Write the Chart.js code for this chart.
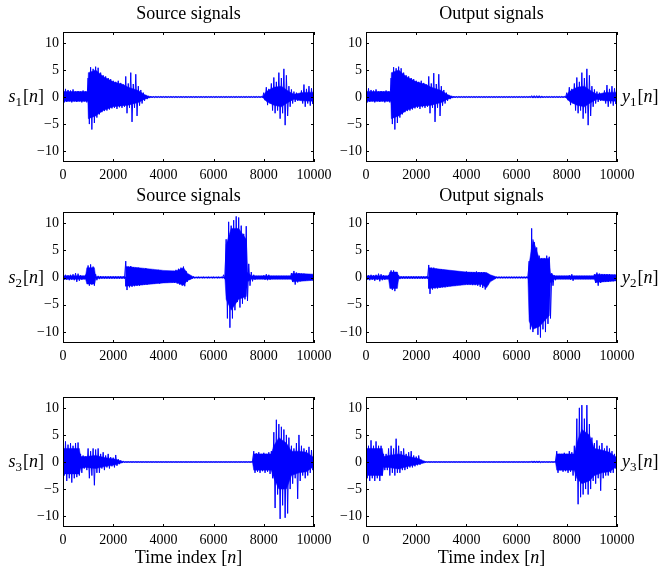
<!DOCTYPE html>
<html><head><meta charset="utf-8">
<script src="https://cdn.jsdelivr.net/npm/chart.js@4/dist/chart.umd.min.js"></script>
<style>
html,body{margin:0;padding:0;background:#fff;width:661px;height:572px;overflow:hidden}
canvas{position:absolute;left:0;top:0}
</style></head>
<body>
<canvas id="c0" width="661" height="572"></canvas>
<canvas id="c1" width="661" height="572"></canvas>
<canvas id="c2" width="661" height="572"></canvas>
<canvas id="c3" width="661" height="572"></canvas>
<canvas id="c4" width="661" height="572"></canvas>
<canvas id="c5" width="661" height="572"></canvas>
<script>
// tick values
const xTicks = [0, 2000, 4000, 6000, 8000, 10000];
const yTicks = [-10, -5, 0, 5, 10];
const colTitles = ['Source signals', 'Output signals'];
const xLabel = 'Time index';

// Peak values: Hi at n = 0,100,...,10000; Lo at n = 50,150,...,9950
const s1Hi = [
 2.0,1.5,1.3,1.2,1.4,1.0,1.1,1.0,1.2,1.0,
 3.5,5.5,5.2,5.6,5.4,4.5,4.0,3.8,3.5,3.3,
 3.0,2.8,3.0,2.6,2.3,3.8,2.5,4.5,2.4,4.2,
 2.0,1.3,0.8,0.4,0.2,0.15,0.12,0.1,0.1,0.1,
 0.1,0.1,0.1,0.1,0.1,0.1,0.1,0.1,0.1,0.1,
 0.1,0.1,0.1,0.1,0.1,0.1,0.1,0.1,0.1,0.1,
 0.1,0.1,0.1,0.1,0.1,0.1,0.1,0.1,0.1,0.1,
 0.1,0.1,0.1,0.1,0.1,0.1,0.1,0.1,0.1,0.1,
 0.8,1.8,1.5,2.5,3.6,2.8,4.5,3.5,5.2,4.0,
 2.0,1.4,1.0,0.8,0.6,1.2,2.3,1.5,2.0,1.6,
 1.5];
const s1Lo = [
 -1.0,-0.9,-0.8,-1.0,-0.8,-0.9,-0.8,-1.0,-0.8,-1.0,
 -5.0,-6.0,-4.8,-3.8,-3.2,-2.8,-2.6,-2.5,-2.3,-2.1,
 -2.0,-2.2,-1.9,-2.0,-1.8,-3.0,-2.0,-4.6,-2.0,-3.5,
 -1.6,-1.2,-0.7,-0.4,-0.2,-0.15,-0.12,-0.1,-0.1,-0.1,
 -0.1,-0.1,-0.1,-0.1,-0.1,-0.1,-0.1,-0.1,-0.1,-0.1,
 -0.1,-0.1,-0.1,-0.1,-0.1,-0.1,-0.1,-0.1,-0.1,-0.1,
 -0.1,-0.1,-0.1,-0.1,-0.1,-0.1,-0.1,-0.1,-0.1,-0.1,
 -0.1,-0.1,-0.1,-0.1,-0.1,-0.1,-0.1,-0.1,-0.1,-0.1,
 -0.6,-1.5,-1.2,-2.5,-3.0,-2.5,-4.0,-3.0,-5.2,-3.5,
 -1.8,-1.2,-0.9,-0.7,-0.6,-1.2,-1.8,-1.2,-1.6,-1.3];
// dense core band: breakpoints n, upper, lower
const s1CoreX  = [0, 990, 1010, 1300, 1600, 2000, 2400, 2600, 3000, 3300, 3500, 7950, 8100, 8400, 8700, 9000, 9200, 9500, 10000];
const s1CoreHi = [1.0, 1.0, 4.5, 5.0, 3.8, 2.8, 2.3, 1.8, 1.2, 0.3, 0.05, 0.05, 1.0, 1.8, 2.0, 1.0, 0.5, 0.8, 0.9];
const s1CoreLo = [-0.8, -0.8, -4.0, -3.5, -2.5, -1.8, -1.6, -1.5, -1.0, -0.3, -0.05, -0.05, -0.8, -1.5, -1.8, -0.9, -0.4, -0.7, -0.8];

const y1Hi = [
 2.0,1.6,1.3,1.2,1.4,1.0,1.1,1.0,1.2,1.0,
 3.5,5.5,5.3,5.6,5.3,4.5,4.0,3.8,3.5,3.3,
 3.0,2.8,3.0,2.6,2.3,3.8,2.5,4.4,2.4,4.2,
 2.0,1.3,0.8,0.4,0.2,0.15,0.12,0.1,0.1,0.1,
 0.1,0.1,0.1,0.1,0.1,0.1,0.1,0.1,0.1,0.1,
 0.1,0.1,0.1,0.1,0.1,0.1,0.1,0.1,0.1,0.1,
 0.1,0.1,0.1,0.1,0.1,0.1,0.25,0.25,0.25,0.25,
 0.2,0.1,0.1,0.1,0.1,0.1,0.1,0.1,0.1,0.1,
 0.8,1.8,1.5,2.5,3.6,2.8,4.5,3.5,5.2,4.0,
 2.0,1.4,1.0,0.8,0.6,1.2,2.2,1.5,2.0,1.6,
 1.5];
const y1Lo = [
 -1.0,-0.9,-0.8,-1.0,-0.8,-0.9,-0.8,-1.0,-0.8,-1.0,
 -5.0,-6.0,-4.8,-3.8,-3.2,-2.8,-2.6,-2.5,-2.3,-2.1,
 -2.0,-2.2,-1.9,-2.0,-1.8,-3.0,-2.0,-4.6,-2.0,-3.5,
 -1.6,-1.2,-0.7,-0.4,-0.2,-0.15,-0.12,-0.1,-0.1,-0.1,
 -0.1,-0.1,-0.1,-0.1,-0.1,-0.1,-0.1,-0.1,-0.1,-0.1,
 -0.1,-0.1,-0.1,-0.1,-0.1,-0.1,-0.1,-0.1,-0.1,-0.1,
 -0.1,-0.1,-0.1,-0.1,-0.1,-0.1,-0.2,-0.2,-0.2,-0.2,
 -0.15,-0.1,-0.1,-0.1,-0.1,-0.1,-0.1,-0.1,-0.1,-0.1,
 -0.6,-1.5,-1.2,-2.5,-3.0,-2.5,-4.0,-3.0,-5.2,-3.5,
 -1.8,-1.2,-0.9,-0.7,-0.6,-1.2,-1.8,-1.2,-1.6,-1.3];
const y1CoreX  = [0, 990, 1010, 1300, 1600, 2000, 2400, 2600, 3000, 3300, 3500, 7950, 8100, 8400, 8700, 9000, 9200, 9500, 10000];
const y1CoreHi = [1.0, 1.0, 4.5, 5.0, 3.8, 2.8, 2.3, 1.8, 1.2, 0.3, 0.05, 0.05, 1.0, 1.8, 2.0, 1.0, 0.5, 0.8, 0.9];
const y1CoreLo = [-0.8, -0.8, -4.0, -3.5, -2.5, -1.8, -1.6, -1.5, -1.0, -0.3, -0.05, -0.05, -0.8, -1.5, -1.8, -0.9, -0.4, -0.7, -0.8];

const s2Hi = [
 0.4,0.5,0.4,0.5,0.6,0.8,0.7,0.4,0.3,0.5,
 2.2,2.4,2.0,0.6,0.3,0.25,0.2,0.2,0.2,0.2,
 0.2,0.2,0.2,0.2,0.2,3.0,2.0,2.1,1.9,1.8,
 1.8,1.7,1.6,1.7,1.5,1.5,1.4,1.3,1.4,1.3,
 1.2,1.1,1.0,1.0,1.2,1.4,1.6,1.8,2.0,1.2,
 0.5,0.3,0.2,0.1,0.1,0.1,0.1,0.1,0.1,0.1,
 0.1,0.1,0.1,0.1,0.5,7.0,10.2,9.5,10.5,11.2,
 11.0,9.5,8.0,9.4,2.5,1.0,0.5,0.3,0.3,0.3,
 0.4,0.6,0.5,0.3,0.3,0.3,0.3,0.3,0.3,0.3,
 0.3,0.8,1.2,0.9,0.8,0.7,0.7,0.6,0.6,0.5,
 0.4];
const s2Lo = [
 -0.4,-0.4,-0.5,-0.4,-0.5,-0.8,-0.6,-0.4,-0.3,-0.5,
 -1.5,-1.3,-1.5,-0.5,-0.3,-0.2,-0.2,-0.2,-0.2,-0.2,
 -0.2,-0.2,-0.2,-0.2,-0.2,-2.3,-1.8,-1.7,-1.6,-1.5,
 -1.5,-1.4,-1.3,-1.3,-1.2,-1.2,-1.1,-1.0,-1.1,-1.0,
 -1.0,-0.9,-0.8,-0.9,-1.0,-1.1,-1.3,-1.5,-1.6,-0.8,
 -0.4,-0.2,-0.15,-0.1,-0.1,-0.1,-0.1,-0.1,-0.1,-0.1,
 -0.1,-0.1,-0.1,-0.1,-0.3,-7.5,-9.2,-7.5,-6.0,-4.5,
 -5.5,-4.8,-4.0,-4.3,-1.5,-0.7,-0.4,-0.3,-0.3,-0.3,
 -0.4,-0.5,-0.4,-0.3,-0.3,-0.3,-0.3,-0.3,-0.3,-0.3,
 -0.3,-0.8,-1.3,-0.9,-0.7,-0.6,-0.6,-0.5,-0.5,-0.5];
const s2CoreX  = [0, 900, 950, 1250, 1300, 2480, 2500, 3000, 4000, 4500, 4800, 4950, 5200, 6450, 6500, 6700, 7000, 7300, 7350, 7500, 9100, 9150, 10000];
const s2CoreHi = [0.3, 0.3, 1.8, 1.8, 0.15, 0.15, 2.0, 1.8, 1.3, 1.2, 1.8, 0.8, 0.1, 0.1, 6.0, 9.0, 9.0, 7.0, 1.0, 0.3, 0.3, 0.8, 0.6];
const s2CoreLo = [-0.3, -0.3, -1.2, -1.2, -0.15, -0.15, -1.6, -1.4, -1.0, -0.9, -1.4, -0.6, -0.1, -0.1, -4.0, -6.0, -4.0, -3.5, -0.8, -0.3, -0.3, -0.8, -0.5];

const y2Hi = [
 0.4,0.4,0.5,0.4,0.5,0.7,0.6,0.4,0.3,0.4,
 1.3,1.3,0.8,0.4,0.2,0.2,0.2,0.2,0.2,0.2,
 0.2,0.2,0.2,0.2,0.2,2.3,1.8,1.8,1.6,1.5,
 1.5,1.4,1.3,1.2,1.2,1.1,1.1,1.0,1.0,1.0,
 1.1,1.0,1.0,1.0,1.1,1.0,1.0,1.0,0.8,0.5,
 0.3,0.2,0.15,0.15,0.15,0.15,0.15,0.15,0.15,0.15,
 0.15,0.15,0.15,0.15,0.15,3.0,9.0,6.5,5.5,4.0,
 3.5,3.5,4.0,3.8,0.8,0.4,0.3,0.3,0.3,0.3,
 0.3,0.4,0.6,0.3,0.3,0.3,0.3,0.3,0.3,0.3,
 0.3,0.6,0.9,0.7,0.6,0.6,0.6,0.6,0.5,0.5,
 0.5];
const y2Lo = [
 -0.4,-0.5,-0.4,-0.6,-0.4,-0.7,-0.5,-0.4,-0.3,-0.4,
 -2.3,-2.5,-1.0,-0.3,-0.2,-0.2,-0.2,-0.2,-0.2,-0.2,
 -0.2,-0.2,-0.2,-0.2,-0.2,-3.0,-2.2,-2.0,-2.0,-1.9,
 -1.8,-1.8,-1.7,-1.6,-1.5,-1.5,-1.4,-1.4,-1.3,-1.3,
 -1.3,-1.3,-1.4,-1.4,-1.5,-1.7,-1.9,-2.2,-1.4,-0.5,
 -0.3,-0.2,-0.15,-0.15,-0.15,-0.15,-0.15,-0.15,-0.15,-0.15,
 -0.15,-0.15,-0.15,-0.15,-0.15,-9.5,-10.0,-9.0,-10.5,-11.0,
 -9.5,-10.0,-8.5,-7.5,-1.5,-0.5,-0.3,-0.3,-0.3,-0.3,
 -0.3,-0.4,-0.6,-0.3,-0.3,-0.3,-0.3,-0.3,-0.3,-0.3,
 -0.3,-1.0,-1.5,-1.0,-0.8,-0.8,-0.8,-0.7,-0.7,-0.6];
const y2CoreX  = [0, 900, 950, 1250, 1300, 2480, 2500, 3000, 4000, 4600, 4800, 4950, 5200, 6450, 6500, 6650, 6900, 7300, 7350, 7500, 9100, 9150, 10000];
const y2CoreHi = [0.3, 0.3, 1.0, 1.0, 0.15, 0.15, 1.8, 1.5, 1.0, 0.9, 0.9, 0.5, 0.1, 0.1, 2.5, 7.0, 3.5, 3.5, 0.8, 0.3, 0.3, 0.6, 0.5];
const y2CoreLo = [-0.3, -0.3, -2.0, -2.0, -0.15, -0.15, -2.0, -1.8, -1.3, -1.3, -1.9, -0.8, -0.1, -0.1, -8.0, -9.5, -9.0, -7.0, -1.0, -0.3, -0.3, -0.9, -0.6];

const s3Hi = [
 3.0,3.8,3.2,3.5,3.0,3.5,3.6,1.5,1.2,1.0,
 2.5,2.0,2.5,2.3,2.5,1.5,1.8,1.2,1.5,0.9,
 0.8,1.3,0.5,0.3,0.2,0.05,0.05,0.05,0.05,0.05,
 0.05,0.05,0.05,0.05,0.05,0.05,0.05,0.05,0.05,0.05,
 0.05,0.05,0.05,0.05,0.05,0.05,0.05,0.05,0.05,0.05,
 0.05,0.05,0.05,0.05,0.05,0.05,0.05,0.05,0.05,0.05,
 0.05,0.05,0.05,0.05,0.05,0.05,0.05,0.05,0.05,0.05,
 0.05,0.05,0.05,0.05,0.05,0.05,2.0,1.6,1.8,1.5,
 1.7,1.5,1.8,2.0,5.5,7.8,7.0,6.5,6.0,5.0,
 4.5,3.0,2.5,3.5,5.0,3.0,2.5,2.2,2.8,2.2,
 1.0];
const s3Lo = [
 -2.5,-3.5,-3.0,-3.8,-3.0,-2.8,-2.5,-2.0,-1.2,-1.5,
 -3.0,-2.5,-4.3,-2.0,-2.0,-1.2,-1.5,-1.0,-1.2,-0.8,
 -1.0,-0.7,-0.4,-0.2,-0.1,-0.05,-0.05,-0.05,-0.05,-0.05,
 -0.05,-0.05,-0.05,-0.05,-0.05,-0.05,-0.05,-0.05,-0.05,-0.05,
 -0.05,-0.05,-0.05,-0.05,-0.05,-0.05,-0.05,-0.05,-0.05,-0.05,
 -0.05,-0.05,-0.05,-0.05,-0.05,-0.05,-0.05,-0.05,-0.05,-0.05,
 -0.05,-0.05,-0.05,-0.05,-0.05,-0.05,-0.05,-0.05,-0.05,-0.05,
 -0.05,-0.05,-0.05,-0.05,-0.05,-0.05,-2.0,-1.8,-2.0,-1.7,
 -2.0,-1.8,-2.2,-3.0,-8.5,-6.0,-10.5,-8.0,-10.3,-9.5,
 -5.0,-4.0,-3.0,-6.8,-3.5,-2.5,-3.0,-2.5,-2.0,-1.5];
const s3CoreX  = [0, 650, 700, 900, 1300, 1700, 2100, 2300, 2400, 7550, 7600, 8300, 8400, 8600, 8900, 9100, 9400, 9700, 10000];
const s3CoreHi = [2.5, 2.5, 1.0, 1.0, 1.2, 0.8, 0.5, 0.2, 0.05, 0.05, 1.5, 1.5, 3.0, 4.5, 3.5, 2.0, 2.0, 1.8, 0.8];
const s3CoreLo = [-2.2, -2.2, -1.2, -1.0, -1.2, -0.8, -0.5, -0.2, -0.05, -0.05, -1.5, -1.5, -3.0, -5.0, -5.0, -2.5, -2.0, -1.8, -0.8];

const y3Hi = [
 2.5,3.0,4.0,3.0,3.8,3.0,3.0,1.5,1.5,2.5,
 3.0,2.5,4.3,3.0,2.0,2.5,1.5,1.8,2.0,1.2,
 1.0,1.2,0.4,0.2,0.05,0.05,0.05,0.05,0.05,0.05,
 0.05,0.05,0.05,0.05,0.05,0.05,0.05,0.05,0.05,0.05,
 0.05,0.05,0.05,0.05,0.05,0.05,0.05,0.05,0.05,0.05,
 0.05,0.05,0.05,0.05,0.05,0.05,0.05,0.05,0.05,0.05,
 0.05,0.05,0.05,0.05,0.05,0.05,0.2,0.2,0.2,0.2,
 0.05,0.05,0.05,0.05,0.05,0.05,2.0,1.5,1.5,1.7,
 1.5,2.0,1.8,3.0,8.0,10.0,10.5,8.0,10.5,7.0,
 4.5,3.5,4.0,3.0,3.5,2.5,3.0,2.5,2.0,1.5,
 1.0];
const y3Lo = [
 -3.0,-3.5,-3.0,-3.5,-3.0,-3.5,-2.5,-1.5,-1.5,-2.5,
 -2.0,-2.5,-2.0,-2.0,-1.5,-1.5,-1.3,-1.0,-1.0,-0.8,
 -0.6,-0.5,-0.2,-0.1,-0.05,-0.05,-0.05,-0.05,-0.05,-0.05,
 -0.05,-0.05,-0.05,-0.05,-0.05,-0.05,-0.05,-0.05,-0.05,-0.05,
 -0.05,-0.05,-0.05,-0.05,-0.05,-0.05,-0.05,-0.05,-0.05,-0.05,
 -0.05,-0.05,-0.05,-0.05,-0.05,-0.05,-0.05,-0.05,-0.05,-0.05,
 -0.05,-0.05,-0.05,-0.05,-0.05,-0.05,-0.15,-0.15,-0.15,-0.15,
 -0.05,-0.05,-0.05,-0.05,-0.05,-0.05,-2.0,-1.5,-1.8,-1.7,
 -2.0,-1.8,-2.5,-3.5,-7.8,-6.5,-6.0,-5.0,-6.0,-5.0,
 -3.5,-4.0,-3.0,-5.3,-3.0,-2.5,-2.5,-2.0,-2.0,-1.2];
const y3CoreX  = [0, 650, 700, 900, 1300, 1700, 2100, 2300, 2400, 7550, 7600, 8300, 8400, 8600, 8900, 9100, 9400, 9700, 10000];
const y3CoreHi = [2.5, 2.5, 1.0, 1.2, 1.5, 1.0, 0.6, 0.2, 0.05, 0.05, 1.5, 1.5, 3.5, 6.0, 5.0, 2.5, 2.2, 1.8, 0.8];
const y3CoreLo = [-2.5, -2.5, -1.0, -1.0, -1.3, -0.8, -0.4, -0.2, -0.05, -0.05, -1.5, -1.5, -3.0, -4.0, -3.5, -2.5, -2.0, -1.8, -0.8];

const SERIF = '"Liberation Serif","Times New Roman",serif';
const W = 661, H = 572;
const BLUE = '#0000ff';

function zigzag(hi, lo) {
  const pts = [];
  for (let i = 0; i < hi.length; i++) {
    pts.push({x: i * 100, y: hi[i]});
    if (i < lo.length) pts.push({x: i * 100 + 50, y: lo[i]});
  }
  return pts;
}
const pair = (xs, ys) => xs.map((x, i) => ({x: x, y: ys[i]}));

function drawSymLabel(ctx, sym, sub, xPos, yMid, alignRight) {
  const big = '18px ' + SERIF, it = 'italic 18px ' + SERIF, small = '13px ' + SERIF;
  const parts = [[sym, it, 0], [sub, small, 4], ['[', big, 0], ['n', it, 0], [']', big, 0]];
  let total = 0;
  const widths = parts.map(p => { ctx.font = p[1]; const w = ctx.measureText(p[0]).width; total += w; return w; });
  total += 1;
  let x = alignRight ? xPos - total : xPos;
  ctx.textAlign = 'left'; ctx.textBaseline = 'alphabetic'; ctx.fillStyle = '#000';
  parts.forEach((p, i) => {
    ctx.font = p[1];
    ctx.fillText(p[0], x, yMid + 5 + p[2]);
    x += widths[i] + (i === 1 ? 1 : 0);
  });
}

function drawXLabel(ctx, cx, y) {
  const big = '18px ' + SERIF, it = 'italic 18px ' + SERIF;
  const parts = [[xLabel + ' [', big], ['n', it], [']', big]];
  let total = 0;
  const widths = parts.map(p => { ctx.font = p[1]; const w = ctx.measureText(p[0]).width; total += w; return w; });
  let x = cx - total / 2;
  ctx.textAlign = 'left'; ctx.textBaseline = 'alphabetic'; ctx.fillStyle = '#000';
  parts.forEach((p, i) => { ctx.font = p[1]; ctx.fillText(p[0], x, y); x += widths[i]; });
}

const deco = {
  id: 'deco',
  afterDraw(chart) {
    const o = chart.options.plugins.deco;
    const ctx = chart.ctx, a = chart.chartArea, xs = chart.scales.x, ys = chart.scales.y;
    ctx.save();
    ctx.strokeStyle = '#000'; ctx.lineWidth = 1;
    ctx.strokeRect(a.left + 0.5, a.top + 0.5, a.right - a.left - 1, a.bottom - a.top - 1);
    ctx.beginPath();
    xTicks.forEach(v => {
      const p = Math.round(xs.getPixelForValue(v)) + 0.5;
      ctx.moveTo(p, a.bottom); ctx.lineTo(p, a.bottom - 3);
      ctx.moveTo(p, a.top); ctx.lineTo(p, a.top + 3);
    });
    yTicks.forEach(v => {
      const p = Math.round(ys.getPixelForValue(v)) + 0.5;
      ctx.moveTo(a.left, p); ctx.lineTo(a.left + 3, p);
      ctx.moveTo(a.right, p); ctx.lineTo(a.right - 3, p);
    });
    ctx.stroke();
    const y0 = ys.getPixelForValue(0);
    if (o.side === 'left') drawSymLabel(ctx, o.sym, o.sub, 44, y0, true);
    else drawSymLabel(ctx, o.sym, o.sub, 622, y0, false);
    if (o.title) {
      ctx.font = '18px ' + SERIF; ctx.fillStyle = '#000';
      ctx.textAlign = 'center'; ctx.textBaseline = 'alphabetic';
      ctx.fillText(o.title, (a.left + a.right) / 2, a.top - o.titleGap);
    }
    if (o.xlabel) drawXLabel(ctx, (a.left + a.right) / 2, a.bottom + 36);
    ctx.restore();
  }
};

const panels = [
  {id: 'c0', hi: s1Hi, lo: s1Lo, cx: s1CoreX, ch: s1CoreHi, cl: s1CoreLo, sym: 's', sub: '1', side: 'left',  title: colTitles[0], gap: 13, xlabel: false, box: [63, 32, 314, 162]},
  {id: 'c1', hi: y1Hi, lo: y1Lo, cx: y1CoreX, ch: y1CoreHi, cl: y1CoreLo, sym: 'y', sub: '1', side: 'right', title: colTitles[1], gap: 13, xlabel: false, box: [366, 32, 617, 162]},
  {id: 'c2', hi: s2Hi, lo: s2Lo, cx: s2CoreX, ch: s2CoreHi, cl: s2CoreLo, sym: 's', sub: '2', side: 'left',  title: colTitles[0], gap: 11, xlabel: false, box: [63, 212, 314, 343]},
  {id: 'c3', hi: y2Hi, lo: y2Lo, cx: y2CoreX, ch: y2CoreHi, cl: y2CoreLo, sym: 'y', sub: '2', side: 'right', title: colTitles[1], gap: 11, xlabel: false, box: [366, 212, 617, 343]},
  {id: 'c4', hi: s3Hi, lo: s3Lo, cx: s3CoreX, ch: s3CoreHi, cl: s3CoreLo, sym: 's', sub: '3', side: 'left',  title: null, gap: 0, xlabel: true, box: [63, 397, 314, 527]},
  {id: 'c5', hi: y3Hi, lo: y3Lo, cx: y3CoreX, ch: y3CoreHi, cl: y3CoreLo, sym: 'y', sub: '3', side: 'right', title: null, gap: 0, xlabel: true, box: [366, 397, 617, 527]}
];

const YW = 40, XH = 30;
const fmt = v => (v < 0 ? '\u2212' + Math.abs(v) : String(v));

panels.forEach(p => {
  const [l, t, r, b] = p.box;
  new Chart(document.getElementById(p.id), {
    type: 'line',
    data: { datasets: [
      { data: zigzag(p.hi, p.lo), borderColor: BLUE, borderWidth: 1, pointRadius: 0, tension: 0, fill: false, order: 0 },
      { data: pair(p.cx, p.ch), borderColor: BLUE, borderWidth: 0.5, backgroundColor: BLUE, pointRadius: 0, tension: 0, fill: '+1', order: 1 },
      { data: pair(p.cx, p.cl), borderColor: BLUE, borderWidth: 0.5, backgroundColor: BLUE, pointRadius: 0, tension: 0, fill: false, order: 2 }
    ]},
    options: {
      responsive: false, animation: false, devicePixelRatio: 1,
      layout: { padding: { left: l - YW, top: t, right: W - r, bottom: H - b - XH } },
      plugins: { legend: {display: false}, tooltip: {enabled: false}, title: {display: false},
        filler: {propagate: false},
        deco: { side: p.side, sym: p.sym, sub: p.sub, title: p.title, titleGap: p.gap, xlabel: p.xlabel } },
      scales: {
        x: {
          type: 'linear', min: 0, max: 10000,
          grid: {display: false, drawTicks: false}, border: {display: false},
          afterBuildTicks: s => { s.ticks = xTicks.map(v => ({value: v})); },
          afterFit: s => { s.height = XH; },
          ticks: { padding: 5, maxRotation: 0, autoSkip: false, color: '#000',
                   font: {family: SERIF, size: 14}, callback: v => String(v) }
        },
        y: {
          type: 'linear', min: -12, max: 12,
          grid: {display: false, drawTicks: false}, border: {display: false},
          afterBuildTicks: s => { s.ticks = yTicks.map(v => ({value: v})); },
          afterFit: s => { s.width = YW; },
          ticks: { padding: 4, autoSkip: false, color: '#000',
                   font: {family: SERIF, size: 14}, callback: v => fmt(v) }
        }
      }
    },
    plugins: [deco]
  });
});
</script>
</body></html>
